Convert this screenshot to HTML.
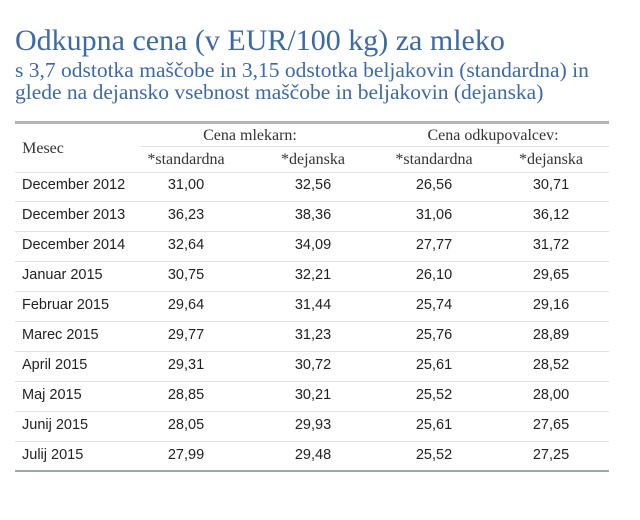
<!DOCTYPE html>
<html><head><meta charset="utf-8"><style>
body{margin:0;width:640px;height:520px;background:#fff;position:relative;overflow:hidden;font-family:"Liberation Sans",sans-serif;}
.t{position:absolute;white-space:nowrap;}
.title{left:15px;top:24px;font-family:"Liberation Serif",serif;font-size:30px;color:#3d6aa5;}
.sub{left:15px;font-family:"Liberation Serif",serif;font-size:21.5px;color:#3d6aa5;}
.ln{position:absolute;left:15px;width:594px;height:1px;background:#dfe3e6;}
.h{font-family:"Liberation Serif",serif;font-size:16px;color:#333;transform:translateX(-50%);}
.c{font-size:14.5px;color:#222;transform:translateX(-50%);}
.m{font-size:14.5px;color:#222;left:22px;}
</style></head><body>
<div class="t title">Odkupna cena (v EUR/100 kg) za mleko</div>
<div class="t sub" style="top:58px">s 3,7 odstotka maščobe in 3,15 odstotka beljakovin (standardna) in</div>
<div class="t sub" style="top:80px">glede na dejansko vsebnost maščobe in beljakovin (dejanska)</div>
<div class="ln" style="top:121px;height:3px;background:#b4b4b4"></div>
<div class="t h" style="left:43px;top:140px">Mesec</div>
<div class="t h" style="left:250px;top:127px">Cena mlekarn:</div>
<div class="t h" style="left:493px;top:127px">Cena odkupovalcev:</div>
<div class="ln" style="top:146px;left:140px;width:469px"></div>
<div class="t h" style="left:186px;top:151px">*standardna</div>
<div class="t h" style="left:313px;top:151px">*dejanska</div>
<div class="t h" style="left:434px;top:151px">*standardna</div>
<div class="t h" style="left:551px;top:151px">*dejanska</div>
<div class="ln" style="top:172px"></div>
<div id="rows"></div>
<div class="ln" style="top:470px;height:2px;background:#9aa8b4"></div>
<script>
const months=["December 2012","December 2013","December 2014","Januar 2015","Februar 2015","Marec 2015","April 2015","Maj 2015","Junij 2015","Julij 2015"];
const mlekStd=["31,00","36,23","32,64","30,75","29,64","29,77","29,31","28,85","28,05","27,99"];
const mlekDej=["32,56","38,36","34,09","32,21","31,44","31,23","30,72","30,21","29,93","29,48"];
const odkStd=["26,56","31,06","27,77","26,10","25,74","25,76","25,61","25,52","25,61","25,52"];
const odkDej=["30,71","36,12","31,72","29,65","29,16","28,89","28,52","28,00","27,65","27,25"];
const root=document.getElementById('rows');
const cols=[[mlekStd,186],[mlekDej,313],[odkStd,434],[odkDej,551]];
months.forEach((m,i)=>{
  const y=177+i*30;
  const d=document.createElement('div');
  d.className='t m';d.style.top=y+'px';d.textContent=m;
  
  
  root.appendChild(d);
  cols.forEach(([arr,x])=>{
    const c=document.createElement('div');
    c.className='t c';c.style.top=y+'px';c.style.left=x+'px';c.textContent=arr[i];
    
    
    root.appendChild(c);
  });
  if(i<months.length-1){
    const l=document.createElement('div');
    l.className='ln';l.style.top=(y+24)+'px';
    
    
    root.appendChild(l);
  }
});
</script>
</body></html>
